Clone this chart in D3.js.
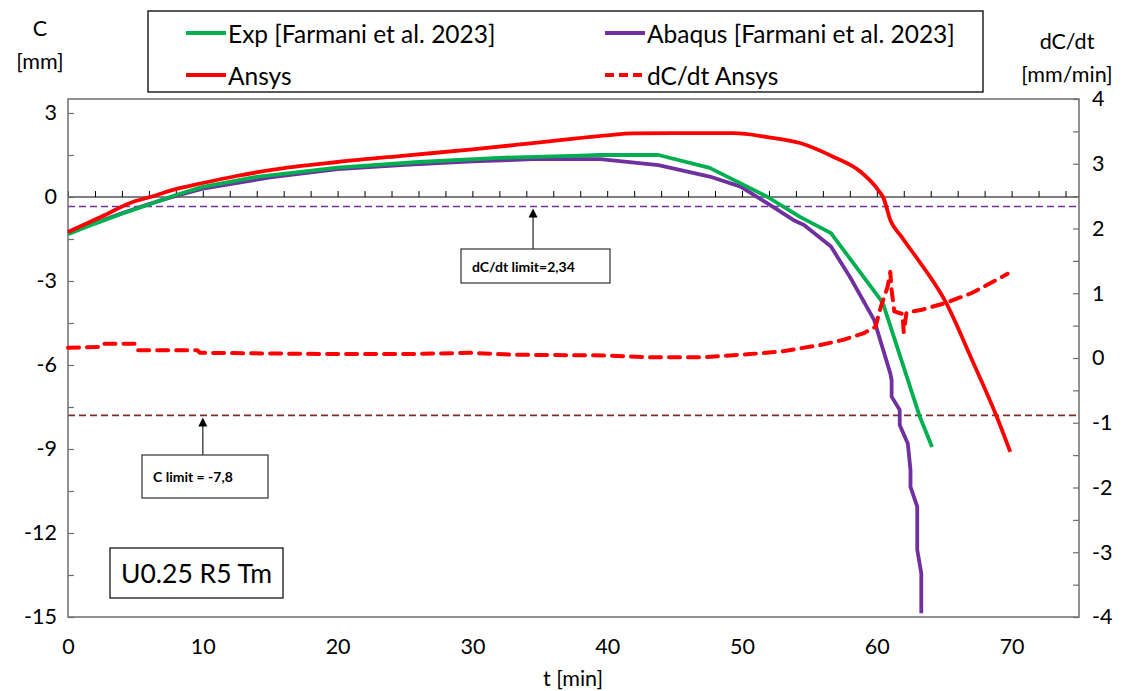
<!DOCTYPE html>
<html>
<head>
<meta charset="utf-8">
<script src="https://cdn.jsdelivr.net/npm/d3@7"></script>
<style>
  html, body { margin: 0; padding: 0; background: #fff; }
  svg { display: block; font-family: Lato, "Open Sans", "Liberation Sans", sans-serif; }
</style>
</head>
<body>
<svg id="chart" width="1130" height="691"></svg>
<script>
// ---- data -------------------------------------------------------------
// Experimental crown displacement C [mm] vs time t [min]
const expT = [0, 2, 4, 6, 8, 10, 14, 20, 26, 32, 38, 39.5, 43.8, 47.6, 51.9, 54.3, 56.6, 60.3, 60.5, 63.2, 64.1];
const expC = [-1.33, -0.95, -0.6, -0.27, 0.07, 0.36, 0.72, 1.05, 1.25, 1.4, 1.48, 1.5, 1.5, 1.04, 0.0, -0.71, -1.29, -3.68, -3.86, -7.86, -8.93];

// Abaqus model
const abaqusT = [0, 2, 4, 6, 8, 10, 15, 20, 25, 30, 35, 39.5, 43.8, 47.6, 49.9, 52.3, 53.8, 54.6, 56.6, 57.3, 58.0, 59.8, 61.0, 61.1, 61.1, 61.7, 61.7, 62.3, 62.5, 62.5, 63.0, 63.0, 63.3, 63.3];
const abaqusC = [-1.3, -0.93, -0.58, -0.25, 0.04, 0.3, 0.7, 1.0, 1.15, 1.27, 1.36, 1.35, 1.14, 0.73, 0.37, -0.35, -0.82, -1.0, -1.77, -2.31, -2.85, -4.39, -6.3, -6.54, -7.13, -7.61, -8.14, -8.8, -9.75, -10.35, -11.06, -12.6, -13.44, -14.87];

// Ansys model
const ansysT = [0, 2.5, 4.8, 6.1, 8, 10, 12.5, 15, 20, 25, 30, 35, 40, 41.9, 45, 49.4, 51.9, 54.3, 56.8, 58.8, 60.1, 60.5, 61.0, 61.8, 62.7, 65.1, 67.0, 68.9, 69.9];
const ansysC = [-1.25, -0.7, -0.18, 0, 0.28, 0.5, 0.75, 0.96, 1.25, 1.48, 1.7, 1.95, 2.2, 2.27, 2.28, 2.28, 2.14, 1.93, 1.43, 0.9, 0.25, -0.04, -0.82, -1.4, -2.0, -3.74, -5.75, -7.85, -9.1];

// Ansys rate dC/dt [mm/min] (secondary axis)
const rateT = [0, 2.5, 2.7, 5, 5.2, 9.6, 9.8, 15, 19.5, 25, 30, 33, 40, 43, 47, 50.6, 52.9, 55.8, 57.5, 59.0, 59.9, 60.3, 60.8, 61.0, 61.1, 61.3, 61.9, 62.0, 62.2, 63.25, 65.1, 67.0, 68.2, 69.7];
const rateV = [0.16, 0.17, 0.22, 0.22, 0.12, 0.12, 0.08, 0.07, 0.06, 0.06, 0.08, 0.05, 0.04, 0.01, 0.01, 0.06, 0.1, 0.2, 0.28, 0.38, 0.48, 0.79, 1.1, 1.33, 1.05, 0.72, 0.68, 0.4, 0.7, 0.74, 0.85, 1.0, 1.13, 1.3];

// limits
const cLimit = -7.8;
const rateLimit = 2.34;

// axes
const xMajor = [0, 10, 20, 30, 40, 50, 60, 70];
const yLeftMajor = [3, 0, -3, -6, -9, -12, -15];
const yRightMajor = [4, 3, 2, 1, 0, -1, -2, -3, -4];

const legendNames = ["Exp [Farmani et al. 2023]", "Abaqus [Farmani et al. 2023]", "Ansys", "dC/dt Ansys"];
const seriesColors = ["#00B050", "#7030A0", "#FF0000", "#FF0000"];

// ---- layout -----------------------------------------------------------
const svg = d3.select("#chart");
const L = 68, R = 1079, T = 99, B = 617;
const x = d3.scaleLinear([0, 75], [L, R]);
const yL = d3.scaleLinear([-15, 3.5], [B, T]);
const yR = d3.scaleLinear([-4, 4], [B, T]);

const fontSize = 21.5;
const axisColor = "#6e6e6e";
const plainNum = d => String(d);

// limit lines
svg.append("line")
  .attr("x1", L).attr("x2", R)
  .attr("y1", yR(rateLimit)).attr("y2", yR(rateLimit))
  .attr("stroke", "#7030A0").attr("stroke-width", 1.6).attr("stroke-dasharray", "7,4");
svg.append("line")
  .attr("x1", L).attr("x2", R)
  .attr("y1", yL(cLimit)).attr("y2", yL(cLimit))
  .attr("stroke", "#7B2C2C").attr("stroke-width", 1.6).attr("stroke-dasharray", "7,4");

// horizontal axis line through C = 0 with upward ticks
const xAxisG = svg.append("g").attr("transform", `translate(0,${yL(0)})`);
xAxisG.call(d3.axisTop(x).tickValues(d3.range(0, 75, 2)).tickSize(6).tickFormat(""))
  .call(g => g.select(".domain").remove());
xAxisG.selectAll(".tick line").attr("stroke", "#000").attr("stroke-width", 1);
xAxisG.append("line").attr("x1", L).attr("x2", R).attr("stroke", "#000").attr("stroke-width", 1.2);

// plot frame
svg.append("rect")
  .attr("x", L).attr("y", T).attr("width", R - L).attr("height", B - T)
  .attr("fill", "none").attr("stroke", axisColor).attr("stroke-width", 1.5);

// left axis ticks (inward) and labels
const leftTicks = svg.append("g").attr("transform", `translate(${L},0)`)
  .call(d3.axisRight(yL).tickValues(d3.range(-15, 3.01, 1.5)).tickSize(6).tickFormat(""));
leftTicks.select(".domain").remove();
leftTicks.selectAll(".tick line").attr("stroke", axisColor).attr("stroke-width", 1.2);
const leftLabels = svg.append("g").attr("transform", `translate(${L},0)`)
  .call(d3.axisLeft(yL).tickValues(yLeftMajor).tickSize(0).tickPadding(11).tickFormat(plainNum));
leftLabels.select(".domain").remove();
leftLabels.selectAll("text").attr("font-size", fontSize).attr("font-family", "Lato").attr("fill", "#000");

// right axis ticks (inward) and labels
const rightTicks = svg.append("g").attr("transform", `translate(${R},0)`)
  .call(d3.axisLeft(yR).tickValues(d3.range(-4, 4.01, 0.5)).tickSize(6).tickFormat(""));
rightTicks.select(".domain").remove();
rightTicks.selectAll(".tick line").attr("stroke", axisColor).attr("stroke-width", 1.2);
const rightLabels = svg.append("g").attr("transform", `translate(${R},0)`)
  .call(d3.axisRight(yR).tickValues(yRightMajor).tickSize(0).tickPadding(13).tickFormat(plainNum));
rightLabels.select(".domain").remove();
rightLabels.selectAll("text").attr("font-size", fontSize).attr("font-family", "Lato").attr("fill", "#000");

// bottom labels
const bottomLabels = svg.append("g").attr("transform", `translate(0,${B})`)
  .call(d3.axisBottom(x).tickValues(xMajor).tickSize(0).tickPadding(22).tickFormat(plainNum));
bottomLabels.select(".domain").remove();
bottomLabels.selectAll("text").attr("font-size", fontSize).attr("font-family", "Lato").attr("fill", "#000");

// axis titles
const title = (txt, cx, cy) => svg.append("text").attr("x", cx).attr("y", cy)
  .attr("text-anchor", "middle").attr("dominant-baseline", "central")
  .attr("font-size", fontSize).attr("fill", "#000").text(txt);
title("C", 40, 28);
title("[mm]", 40, 61);
title("dC/dt", 1067, 41);
title("[mm/min]", 1067, 74);
title("t [min]", 573, 678);

// ---- series -----------------------------------------------------------
const lineL = d3.line().x(d => x(d[0])).y(d => yL(d[1]));
const smoothL = d3.line().curve(d3.curveMonotoneX).x(d => x(d[0])).y(d => yL(d[1]));
const lineR = d3.line().x(d => x(d[0])).y(d => yR(d[1]));
const zip = (a, b) => a.map((v, i) => [v, b[i]]);

const plot = svg.append("g").attr("stroke-linejoin", "round").attr("fill", "none");
plot.append("path").datum(zip(abaqusT, abaqusC)).attr("d", lineL)
  .attr("stroke", seriesColors[1]).attr("stroke-width", 3.8);
plot.append("path").datum(zip(expT, expC)).attr("d", lineL)
  .attr("stroke", seriesColors[0]).attr("stroke-width", 3.8);
plot.append("path").datum(zip(ansysT, ansysC)).attr("d", smoothL)
  .attr("stroke", seriesColors[2]).attr("stroke-width", 3.8);
plot.append("path").datum(zip(rateT, rateV)).attr("d", lineR)
  .attr("stroke", seriesColors[3]).attr("stroke-width", 4)
  .attr("stroke-dasharray", "11,8").attr("stroke-linecap", "round");

// ---- annotations ------------------------------------------------------
function callout(label, tAnchor, yLine, box) {
  const ax = x(tAnchor);
  svg.append("line").attr("x1", ax).attr("x2", ax)
    .attr("y1", box.y).attr("y2", yLine + 9)
    .attr("stroke", "#404040").attr("stroke-width", 1.4);
  svg.append("path")
    .attr("d", `M${ax},${yLine + 2} L${ax - 4.5},${yLine + 11} L${ax + 4.5},${yLine + 11} Z`)
    .attr("fill", "#000");
  svg.append("rect").attr("x", box.x).attr("y", box.y).attr("width", box.w).attr("height", box.h)
    .attr("fill", "#fff").attr("stroke", "#404040").attr("stroke-width", 1.3);
  svg.append("text").attr("x", box.x + 11).attr("y", box.y + box.h / 2)
    .attr("dominant-baseline", "central").attr("font-size", 14).attr("font-weight", "bold")
    .attr("fill", "#000").text(label);
}
callout("dC/dt limit=2,34", 34.5, yR(rateLimit), { x: 461, y: 249, w: 149, h: 34 });
callout("C limit = -7,8", 10, yL(cLimit), { x: 142, y: 455, w: 126, h: 43 });

// case label
svg.append("rect").attr("x", 110).attr("y", 548).attr("width", 173).attr("height", 50)
  .attr("fill", "#fff").attr("stroke", "#000").attr("stroke-width", 1.2);
svg.append("text").attr("x", 196.5).attr("y", 573).attr("text-anchor", "middle")
  .attr("dominant-baseline", "central").attr("font-size", 26.5).attr("fill", "#000").text("U0.25 R5 Tm");

// ---- legend -----------------------------------------------------------
svg.append("rect").attr("x", 148).attr("y", 11).attr("width", 835).attr("height", 81)
  .attr("fill", "#fff").attr("stroke", "#000").attr("stroke-width", 1.3);
const legendPos = [[186, 33], [605, 33], [186, 75], [605, 75]];
legendNames.forEach((name, i) => {
  const [lx, ly] = legendPos[i];
  const sw = svg.append("line").attr("x1", lx).attr("x2", lx + 40).attr("y1", ly).attr("y2", ly)
    .attr("stroke", seriesColors[i]).attr("stroke-width", 3.8);
  if (i === 3) sw.attr("stroke-dasharray", "9,5");
  svg.append("text").attr("x", lx + 42).attr("y", ly).attr("dominant-baseline", "central")
    .attr("font-size", 24.5).attr("fill", "#000").text(name);
});
</script>
</body>
</html>
